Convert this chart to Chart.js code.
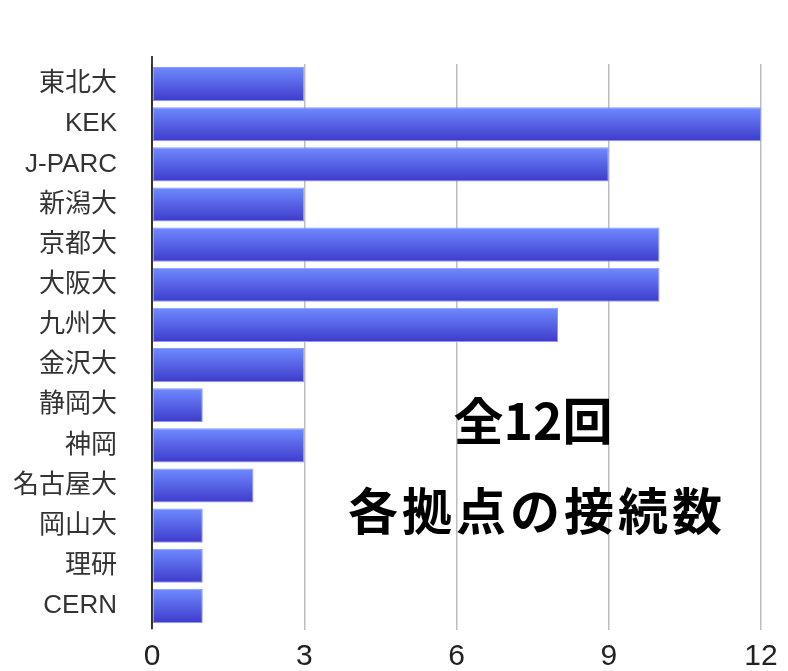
<!DOCTYPE html>
<html>
<head>
<meta charset="utf-8">
<script src="https://cdn.jsdelivr.net/npm/chart.js@4/dist/chart.umd.min.js"></script>
<style>
html,body{margin:0;padding:0;background:#fff;}
#wrap{width:788px;height:671px;}
</style>
</head>
<body>
<div id="wrap"><canvas id="c" width="788" height="671"></canvas></div>
<script>
const categories = ['東北大','KEK','J-PARC','新潟大','京都大','大阪大','九州大','金沢大','静岡大','神岡','名古屋大','岡山大','理研','CERN'];
const counts = [3,12,9,3,10,10,8,3,1,3,2,1,1,1];
const xTicks = [0,3,6,9,12];
const titleLines = ['全12回','各拠点の接続数'];

const FONT = '"Liberation Sans", Arial, "Noto Sans CJK JP", sans-serif';
const BAR_PCT = 0.85;

const overlayText = {
  id: 'overlayText',
  afterDraw(chart) {
    const ctx = chart.ctx;
    ctx.save();
    ctx.fillStyle = '#000';
    ctx.textAlign = 'center';
    ctx.textBaseline = 'middle';
    ctx.font = 'bold 50px "Noto Sans CJK JP", "Liberation Sans", sans-serif';
    ctx.fillText(titleLines[0], 533, 421);
    ctx.letterSpacing = '4px';
    ctx.fillText(titleLines[1], 537, 511);
    ctx.restore();
  }
};

const axisExtend = {
  id: 'axisExtend',
  afterDatasetsDraw(chart) {
    const ctx = chart.ctx, a = chart.chartArea, x = chart.scales.x;
    ctx.save();
    ctx.strokeStyle = '#000';
    ctx.lineWidth = 1.5;
    const x0 = x.getPixelForValue(0);
    ctx.beginPath();
    ctx.moveTo(x0, a.top - 8);
    ctx.lineTo(x0, a.bottom + 3);
    ctx.stroke();
    ctx.restore();
  }
};

new Chart(document.getElementById('c'), {
  type: 'bar',
  data: {
    labels: categories,
    datasets: [{
      data: counts,
      backgroundColor(c) {
        const ch = c.chart;
        if (!ch.chartArea || !ch.scales.y) return '#5565ee';
        const y = ch.scales.y.getPixelForValue(c.dataIndex);
        const h = ch.scales.y.height / categories.length * BAR_PCT;
        const g = ch.ctx.createLinearGradient(0, y - h / 2, 0, y + h / 2);
        g.addColorStop(0, '#6f8bff');
        g.addColorStop(1, '#3e3acb');
        return g;
      },
      borderColor: '#8a98ff',
      borderWidth: 1,
      borderSkipped: false,
      barPercentage: BAR_PCT,
      categoryPercentage: 1
    }]
  },
  options: {
    indexAxis: 'y',
    responsive: false,
    animation: false,
    layout: { padding: { left: 0, right: 27, top: 64, bottom: 0 } },
    plugins: { legend: { display: false }, tooltip: { enabled: false } },
    scales: {
      x: {
        min: 0, max: 12,
        afterBuildTicks(s) { s.ticks = xTicks.map(v => ({ value: v })); },
        afterFit(s) { s.height = 45; },
        grid: { color: '#bdbdbd', lineWidth: 1.5, tickLength: 4, drawTicks: true },
        border: { display: false },
        ticks: { color: '#222', font: { family: FONT, size: 30 }, padding: 9, maxRotation: 0 }
      },
      y: {
        afterFit(s) { s.width = 152; s.paddingTop = 0; s.paddingBottom = 0; },
        grid: { display: false, drawTicks: false },
        border: { display: false },
        ticks: { color: '#333', font: { family: FONT, size: 26 }, padding: 35 }
      }
    }
  },
  plugins: [axisExtend, overlayText]
});
</script>
</body>
</html>
